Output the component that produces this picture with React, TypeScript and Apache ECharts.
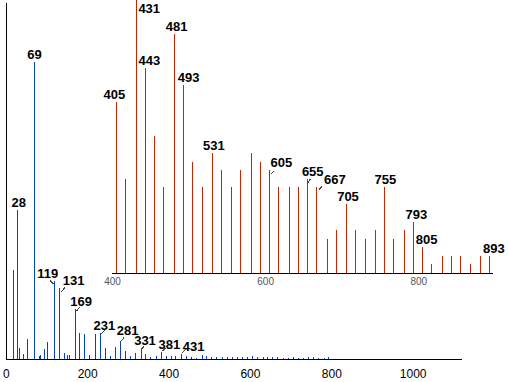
import React, { useEffect, useRef } from "react";
import * as echarts from "echarts";

// Main spectrum (m/z vs relative intensity, %)
const mainMz = [18, 28, 32, 41, 51, 69, 81, 83, 85, 93, 100, 119, 131, 143, 150, 155, 169, 181, 193, 205, 219, 231, 243, 255, 269, 281, 293, 305, 317, 331, 343, 355, 369, 381, 393, 405, 417, 431, 443, 455, 467, 481, 493, 505, 517, 531, 543, 555, 567, 581, 593, 605, 617, 631, 643, 655, 667, 681, 693, 705, 717, 731, 743, 755, 767, 781, 793];
const mainIntensity = [30.0, 50.2, 3.7, 1.7, 6.7, 100, 1.0, 1.0, 1.5, 3.4, 5.7, 26.3, 23.9, 2.0, 1.3, 1.3, 16.8, 8.8, 8.4, 1.3, 8.4, 8.8, 3.7, 1.0, 4.0, 6.1, 2.7, 1.0, 2.0, 3.7, 1.7, 0.7, 1.0, 2.4, 1.0, 1.0, 1.0, 1.7, 1.0, 0.7, 0.5, 1.3, 1.0, 0.7, 0.7, 0.7, 0.7, 0.7, 0.7, 0.7, 0.7, 1.0, 0.7, 0.7, 0.7, 0.7, 0.7, 0.5, 0.5, 0.7, 0.5, 0.5, 0.7, 0.7, 0.5, 0.5, 0.7];
const mainLabeled = [28, 69, 119, 131, 169, 231, 281, 331, 381, 431];

// Inset (zoomed high-mass region)
const insetMz = [405, 417, 431, 443, 455, 467, 481, 493, 505, 517, 531, 543, 555, 567, 581, 593, 605, 617, 631, 643, 655, 667, 681, 693, 705, 717, 731, 743, 755, 767, 781, 793, 805, 817, 831, 843, 855, 867, 881, 893];
const insetIntensity = [62.6, 34.4, 100, 75.1, 50.2, 31.5, 87.5, 68.9, 40.7, 31.5, 44.0, 37.7, 31.5, 37.7, 44.0, 40.7, 37.7, 31.5, 31.5, 31.5, 34.4, 31.5, 12.5, 15.8, 25.3, 15.8, 12.5, 15.8, 31.5, 12.5, 15.8, 18.7, 9.5, 3.3, 6.2, 6.2, 6.2, 3.3, 6.2, 6.2];
const insetLabeled = [405, 431, 443, 481, 493, 531, 605, 655, 667, 705, 755, 793, 805, 893];

// Axis ticks
const mainTicks = [0, 200, 400, 600, 800, 1000];
const insetTicks = [400, 600, 800];

// Label placement (style only): [dx, dy]
const mainShift: Record<number, [number, number]> = {
  28: [1, 0], 69: [0, 0], 119: [-7, 0], 131: [14, 0], 169: [6, 0],
  231: [4, 0], 281: [7, -3], 331: [4, 0], 381: [8, 0], 431: [12, 0],
};
const insetShift: Record<number, [number, number]> = {
  405: [-2, 0], 431: [13, 16], 443: [4, 0], 481: [2, 0], 493: [5, 0],
  531: [1, 0], 605: [12, 0], 655: [5, 0], 667: [18, 0], 705: [2, 0],
  755: [1, 0], 793: [3, 0], 805: [4, 0], 893: [4, 0],
};
// Leader ticks, pixel offsets from the peak top (style only): [x1, y1, x2, y2]
const mainLeader: Record<number, [number, number, number, number]> = {
  119: [-5, -1, -1.5, 3], 131: [1.5, 4, 5.5, -1], 169: [1.5, 2, 4.5, -2], 231: [1, 1, 5, -3],
  281: [1, 0, 3.5, -4], 331: [0.5, 2, 3, -2], 381: [1, -1, 4.5, -4], 431: [0.5, -1, 4, -5],
};
const insetLeader: Record<number, [number, number, number, number]> = {
  605: [1.5, 4, 5, 0.5], 655: [0.5, 3.5, 2.5, 0], 667: [2, 2.5, 5, -0.5],
};

const BLUE = "#0044cc";
const RED = "#cc2200";

export default function App() {
  const ref = useRef<HTMLDivElement>(null);
  useEffect(() => {
    if (!ref.current) return;
    const chart = echarts.init(ref.current, undefined, { renderer: "svg" });
    const labelStyle = {
      show: true,
      position: "top",
      distance: 1,
      color: "#000",
      fontSize: 13,
      fontWeight: "bold",
      fontFamily: "Liberation Sans, Arial, sans-serif",
    };
    const build = (mz: number[], inten: number[], labeled: number[]) =>
      mz.map((m, i) => {
        const item: any = { value: [m, inten[i]] };
        if (labeled.includes(m)) item.label = { ...labelStyle, formatter: String(m) };
        return item;
      });
    const layoutFor = (mz: number[], shift: Record<number, [number, number]>) => (p: any) => {
      const s = shift[mz[p.dataIndex]];
      return s ? { dx: s[0], dy: s[1] } : {};
    };
    const leaderData = (mz: number[], inten: number[], leaders: Record<number, number[]>) =>
      mz.filter((m) => leaders[m]).map((m) => [m, inten[mz.indexOf(m)]]);
    const leaderSeries = (xi: number, leaders: Record<number, number[]>, data: number[][]) => ({
      type: "custom",
      xAxisIndex: xi,
      yAxisIndex: xi,
      silent: true,
      clip: false,
      z: 5,
      data,
      renderItem: (params: any, api: any) => {
        const m = api.value(0);
        const pt = api.coord([m, api.value(1)]);
        const o = leaders[m];
        return {
          type: "line",
          shape: { x1: pt[0] + o[0], y1: pt[1] + o[1], x2: pt[0] + o[2], y2: pt[1] + o[3] },
          style: { stroke: "#444", lineWidth: 1 },
        };
      },
    });
    const axisLabelFont = "Liberation Sans, Arial, sans-serif";
    chart.setOption({
      animation: false,
      grid: [
        { left: 6, top: 3, right: 46, bottom: 23 },
        { left: 112.5, top: 0, right: 15, bottom: 109 },
      ],
      xAxis: [
        {
          type: "value", gridIndex: 0, min: 0, max: 1120, interval: 200,
          axisLine: { show: true, lineStyle: { color: "#000", width: 1 } },
          axisTick: { show: false }, splitLine: { show: false },
          axisLabel: {
            color: "#000", fontSize: 12, fontFamily: axisLabelFont, margin: 9, showMaxLabel: false,
            formatter: (v: number) => (mainTicks.includes(v) ? String(v) : ""),
          },
        },
        {
          type: "value", gridIndex: 1, min: 400, max: 897, interval: 200,
          axisLine: { show: true, lineStyle: { color: "#000", width: 1 } },
          axisTick: { show: false }, splitLine: { show: false },
          axisLabel: {
            color: "#555", fontSize: 10, fontFamily: axisLabelFont, margin: 3, showMaxLabel: false,
            formatter: (v: number) => (insetTicks.includes(v) ? String(v) : ""),
          },
        },
      ],
      yAxis: [
        {
          type: "value", gridIndex: 0, min: 0, max: 120,
          axisLine: { show: true, lineStyle: { color: "#000", width: 1 } },
          axisTick: { show: false }, axisLabel: { show: false }, splitLine: { show: false },
        },
        {
          type: "value", gridIndex: 1, min: 0, max: 100,
          axisLine: { show: false }, axisTick: { show: false }, axisLabel: { show: false }, splitLine: { show: false },
        },
      ],
      series: [
        {
          type: "bar", xAxisIndex: 0, yAxisIndex: 0, barWidth: 1,
          itemStyle: { color: BLUE }, data: build(mainMz, mainIntensity, mainLabeled),
          labelLayout: layoutFor(mainMz, mainShift),
        },
        {
          type: "bar", xAxisIndex: 1, yAxisIndex: 1, barWidth: 1,
          itemStyle: { color: RED }, data: build(insetMz, insetIntensity, insetLabeled),
          labelLayout: layoutFor(insetMz, insetShift),
        },
        leaderSeries(0, mainLeader, leaderData(mainMz, mainIntensity, mainLeader)),
        leaderSeries(1, insetLeader, leaderData(insetMz, insetIntensity, insetLeader)),
      ],
    });
    return () => chart.dispose();
  }, []);
  return (
    <>
      <style>{`.spec-chart svg path { shape-rendering: crispEdges; }`}</style>
      <div
        ref={ref}
        className="spec-chart"
        style={{ position: "absolute", left: 0, top: 0, width: 508, height: 382, background: "#fff" }}
      />
    </>
  );
}
